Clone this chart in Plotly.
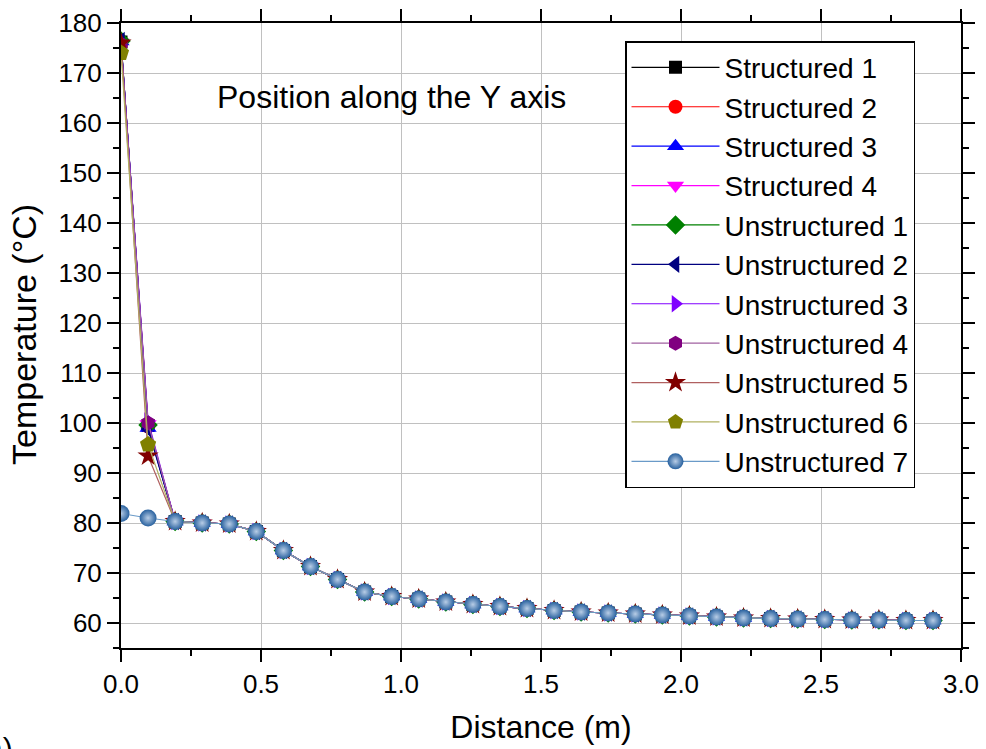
import plotly.graph_objects as go

x_vals = [round(i * 2.9 / 30, 4) for i in range(31)]

common_tail = [80.3, 80.0, 79.8, 78.3, 74.5, 71.3, 68.7, 66.2, 65.3, 64.8, 64.2, 63.7,
               63.3, 62.9, 62.5, 62.2, 62.0, 61.8, 61.6, 61.4, 61.2, 61.0, 60.9, 60.8,
               60.7, 60.6, 60.6, 60.5, 60.5]

structured_1 = [176.2, 99.5] + common_tail
structured_2 = [176.0, 99.3] + common_tail
structured_3 = [176.3, 99.0] + common_tail
structured_4 = [176.1, 99.8] + common_tail
unstructured_1 = [176.4, 99.6] + common_tail
unstructured_2 = [176.5, 98.8] + common_tail
unstructured_3 = [176.2, 100.4] + common_tail
unstructured_4 = [175.8, 100.0] + common_tail
unstructured_5 = [176.0, 93.4] + common_tail
unstructured_6 = [174.0, 95.7] + common_tail
unstructured_7 = [81.9, 81.0] + common_tail

names = ["Structured 1", "Structured 2", "Structured 3", "Structured 4",
         "Unstructured 1", "Unstructured 2", "Unstructured 3", "Unstructured 4",
         "Unstructured 5", "Unstructured 6", "Unstructured 7"]
series = [structured_1, structured_2, structured_3, structured_4, unstructured_1,
          unstructured_2, unstructured_3, unstructured_4, unstructured_5,
          unstructured_6, unstructured_7]
marker_colors = ["#000000", "#FF0000", "#0000FF", "#FF00FF", "#008000", "#000080",
                 "#8000FF", "#800080", "#800000", "#808000", "#27609E"]
line_colors = ["#000000", "#FF0000", "#0000FF", "#FF00FF", "#008000", "#000080",
               "#8000FF", "#A060A0", "#B06060", "#B0B060", "#6A9AC8"]
symbols = ["square", "circle", "triangle-up", "triangle-down", "diamond",
           "triangle-left", "triangle-right", "hexagon", "star", "pentagon", "circle"]
sizes = [13, 14, 15, 15, 15, 15, 15, 15, 16, 17, 17]

FONT = "Liberation Sans, Arial"

fig = go.Figure()
for i, (nm, ys) in enumerate(zip(names, series)):
    marker = dict(symbol=symbols[i], size=sizes[i], color=marker_colors[i],
                  line=dict(width=0))
    if i == 10:
        marker["gradient"] = dict(type="radial", color="#B8CDE6")
    fig.add_trace(go.Scatter(
        x=x_vals, y=ys, name=nm, mode="lines+markers",
        line=dict(color=line_colors[i], width=1.2),
        marker=marker,
    ))

axis_common = dict(
    showline=True, linecolor="black", linewidth=2, mirror="ticks",
    ticks="outside", ticklen=12, tickwidth=2, tickcolor="black",
    showgrid=True, gridcolor="#C0C0C0", gridwidth=1,
    zeroline=False, automargin=False,
    tickfont=dict(family=FONT, size=26, color="black"),
)

fig.update_xaxes(
    range=[0, 3.0], dtick=0.5, tick0=0, tickformat=".1f",
    title=dict(text="Distance (m)", font=dict(family=FONT, size=32, color="black"),
               standoff=17),
    minor=dict(dtick=0.25, ticks="outside", ticklen=6, tickwidth=2, tickcolor="black", showgrid=False),
    **axis_common,
)
fig.update_yaxes(
    range=[55, 180], dtick=10, tick0=60,
    minor=dict(dtick=5, ticks="outside", ticklen=6, tickwidth=2, tickcolor="black", showgrid=False),
    **axis_common,
)

# y-axis title placed as rotated text
fig.add_annotation(
    x=-0.1155, y=0.5024, xref="paper", yref="paper", xanchor="center", yanchor="middle",
    text="Temperature (°C)", showarrow=False, textangle=-90,
    font=dict(family=FONT, size=34, color="black"),
)
fig.add_annotation(
    x=0.112, y=0.882, xref="paper", yref="paper", xanchor="left", yanchor="middle",
    text="Position along the Y axis", showarrow=False,
    font=dict(family=FONT, size=32, color="black"),
)
fig.add_annotation(
    x=-0.175, y=-0.16, xref="paper", yref="paper", xanchor="left", yanchor="middle",
    text="(a)", showarrow=False,
    font=dict(family=FONT, size=30, color="black"),
)

fig.update_layout(
    width=986, height=749,
    margin=dict(l=121, r=25, t=23, b=101),
    paper_bgcolor="white", plot_bgcolor="white",
    showlegend=True,
    legend=dict(
        x=0.600, y=0.971, xanchor="left", yanchor="top",
        bgcolor="white", bordercolor="black", borderwidth=1.5,
        font=dict(family=FONT, size=28, color="black"),
        itemwidth=88, tracegroupgap=0,
    ),
)

fig.write_html("out.html")
